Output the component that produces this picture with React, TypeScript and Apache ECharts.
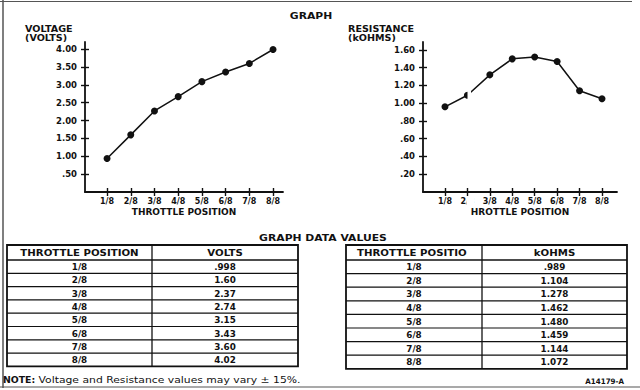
import React, { useEffect, useRef } from 'react';
import * as echarts from 'echarts';

// ---- data ----
const positions = [1, 2, 3, 4, 5, 6, 7, 8];
const throttleLabels = ['1/8', '2/8', '3/8', '4/8', '5/8', '6/8', '7/8', '8/8'];
const voltagePlotted = [0.94, 1.6, 2.27, 2.67, 3.09, 3.36, 3.6, 3.99];
const resistancePlotted = [0.96, 1.09, 1.32, 1.5, 1.52, 1.47, 1.14, 1.05];
const voltTicks = [0.5, 1, 1.5, 2, 2.5, 3, 3.5, 4];
const resTicks = [0.2, 0.4, 0.6, 0.8, 1.0, 1.2, 1.4, 1.6];
const voltsTable = ['.998', '1.60', '2.37', '2.74', '3.15', '3.43', '3.60', '4.02'];
const kohmsTable = ['.989', '1.104', '1.278', '1.462', '1.480', '1.459', '1.144', '1.072'];

const FONT = '"DejaVu Sans", sans-serif';
const INK = '#111';

function txt(x: number, y: number, text: string, size: number, opts: any = {}) {
  return {
    type: 'text',
    x,
    y,
    scaleX: opts.scaleX ?? 1.2,
    z: 50,
    style: {
      text,
      fill: INK,
      fontSize: size,
      fontFamily: opts.family ?? FONT,
      fontWeight: opts.weight ?? 'bold',
      align: opts.align ?? 'center',
      verticalAlign: 'middle',
    },
  };
}

function ln(x1: number, y1: number, x2: number, y2: number, w: number, color = INK) {
  return { type: 'line', z: 40, shape: { x1, y1, x2, y2 }, style: { stroke: color, lineWidth: w } };
}

function table(x0: number, x1: number, xd: number, top: number, hb: number, rowH: number,
  h1: string, h2: string, values: string[], h1Left?: number) {
  const els: any[] = [];
  const bottom = hb + rowH * values.length;
  els.push({ type: 'rect', z: 40, shape: { x: x0, y: top, width: x1 - x0, height: bottom - top }, style: { fill: 'none', stroke: INK, lineWidth: 1.8 } });
  els.push(ln(x0, hb, x1, hb, 1.3));
  for (let i = 1; i < values.length; i++) els.push(ln(x0, hb + rowH * i, x1, hb + rowH * i, 1.2));
  els.push(ln(xd, top, xd, bottom, 1.3));
  const c1 = (x0 + xd) / 2;
  const c2 = (xd + x1) / 2;
  const hy = (top + hb) / 2 + 0.5;
  if (h1Left !== undefined) els.push(txt(h1Left, hy, h1, 8.5, { align: 'left' }));
  else els.push(txt(c1, hy, h1, 8.5));
  els.push(txt(c2, hy, h2, 8.5));
  values.forEach((v, i) => {
    const y = hb + rowH * (i + 0.5) + 0.5;
    els.push(txt(c1, y, throttleLabels[i], 8, { scaleX: 1.1 }));
    els.push(txt(c2, y, v, 8, { scaleX: 1.1 }));
  });
  return els;
}

const axisFont = { fontFamily: FONT, fontWeight: 'bold', color: INK };
const tickStyle = { color: INK, width: 1.4 };

function xAxes(gridIndex: number, min: number, max: number, name: string) {
  const base = { type: 'value', gridIndex, min, max, position: 'bottom', splitLine: { show: false } };
  return [
    {
      ...base,
      name,
      nameLocation: 'middle',
      nameGap: 15,
      nameTextStyle: { ...axisFont, fontSize: 9 },
      axisLine: { show: true, onZero: false, lineStyle: { color: INK, width: 1.8 } },
      axisTick: { show: true, inside: false, length: 4, customValues: positions, lineStyle: tickStyle },
      axisLabel: {
        show: true, customValues: positions, margin: 5, fontSize: 8, ...axisFont,
        formatter: (v: number) => throttleLabels[positions.indexOf(v)] ?? '',
      },
    },
    {
      ...base,
      axisLine: { show: false },
      axisTick: { show: true, inside: true, length: 4, customValues: positions, lineStyle: tickStyle },
      axisLabel: { show: false },
    },
  ];
}

function yAxes(gridIndex: number, max: number, ticks: number[]) {
  const base = { type: 'value', gridIndex, min: 0, max, position: 'left', splitLine: { show: false } };
  return [
    {
      ...base,
      axisLine: { show: true, onZero: false, lineStyle: { color: INK, width: 1.8 } },
      axisTick: { show: true, inside: false, length: 4, customValues: ticks, lineStyle: tickStyle },
      axisLabel: {
        show: true, customValues: ticks, margin: 8, fontSize: 8.5, ...axisFont,
        formatter: (v: number) => (v < 1 ? v.toFixed(2).slice(1) : v.toFixed(2)),
      },
    },
    {
      ...base,
      axisLine: { show: false },
      axisTick: { show: true, inside: true, length: 4, customValues: ticks, lineStyle: tickStyle },
      axisLabel: { show: false },
    },
  ];
}

const lineSeries = (xi: number, yi: number, values: number[]) => ({
  type: 'line',
  xAxisIndex: xi,
  yAxisIndex: yi,
  data: positions.map((p, i) => [p, values[i]]),
  symbol: 'circle',
  symbolSize: 7,
  lineStyle: { color: INK, width: 1.5 },
  itemStyle: { color: INK },
  z: 3,
});

const graphics: any[] = [
  // frame
  ln(3, 0, 3, 388, 1.5, '#555'),
  ln(0, 1.5, 632, 1.5, 1.2, '#555'),
  ln(0, 387, 640, 387, 1.2, '#555'),
  // titles
  txt(311, 15.5, 'GRAPH', 9),
  txt(25, 29.7, 'VOLTAGE', 8, { align: 'left' }),
  txt(25, 37.8, '(VOLTS)', 8, { align: 'left' }),
  txt(348, 29.7, 'RESISTANCE', 8, { align: 'left' }),
  txt(348, 38, '(kOHMS)', 8, { align: 'left' }),
  txt(323, 238, 'GRAPH DATA VALUES', 9),
  ...table(7, 298, 152, 245, 260, 13.3, 'THROTTLE POSITION', 'VOLTS', voltsTable),
  ...table(346, 627, 482, 245, 260, 13.6, 'THROTTLE POSITIO', 'kOHMS', kohmsTable, 357),
  txt(3, 380, 'NOTE:', 8.5, { align: 'left', scaleX: 1.1 }),
  txt(38.5, 380, 'Voltage and Resistance values may vary ± 15%.', 9, { align: 'left', weight: 'normal' }),
  txt(624, 381, 'A14179-A', 7.5, { align: 'right', scaleX: 0.95 }),
  // scan seam in the right graph
  { type: 'rect', z: 60, shape: { x: 467.5, y: 70, width: 3.5, height: 40 }, style: { fill: '#fff' } },
  { type: 'rect', z: 60, shape: { x: 466.5, y: 196, width: 8, height: 11 }, style: { fill: '#fff' } },
];

const option: any = {
  animation: false,
  backgroundColor: '#fff',
  grid: [
    { left: 85, top: 42, width: 198, height: 150 },
    { left: 423, top: 42, width: 194, height: 150 },
  ],
  xAxis: [
    ...xAxes(0, 0.07, 8.42, 'THROTTLE POSITION'),
    ...xAxes(1, 0.02, 8.67, 'HROTTLE POSITION'),
  ],
  yAxis: [
    ...yAxes(0, 4.2, voltTicks),
    ...yAxes(1, 1.69, resTicks),
  ],
  series: [
    lineSeries(0, 0, voltagePlotted),
    lineSeries(2, 2, resistancePlotted),
  ],
  graphic: graphics,
};

export default function App() {
  const ref = useRef<HTMLDivElement>(null);
  useEffect(() => {
    const chart = echarts.init(ref.current!, null, { renderer: 'svg' });
    chart.setOption(option);
    return () => chart.dispose();
  }, []);
  return (
    <div
      ref={ref}
      style={{ position: 'absolute', left: 0, top: 0, width: 640, height: 390, background: '#fff' }}
    />
  );
}
